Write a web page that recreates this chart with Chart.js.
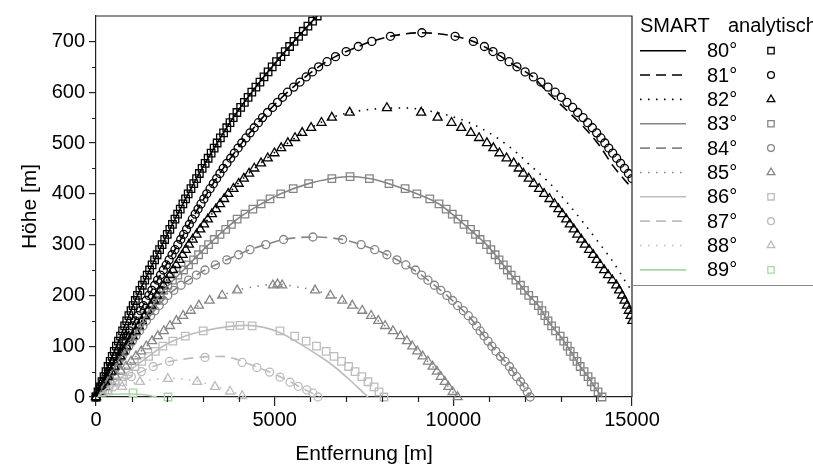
<!DOCTYPE html>
<html lang="de">
<head>
  <meta charset="UTF-8" />
  <title>Flugbahnen SMART / analytisch</title>

  <!-- Load Chart.js -->
  <script src="https://cdn.jsdelivr.net/npm/chart.js"></script>

  <style>
    html, body {
      margin: 0;
      padding: 0;
      background: #fff;
    }
    canvas { display: block; }
  </style>
</head>
<body>
  <canvas id="trajChart" width="813" height="471"></canvas>

  <script>
    const FONT = "'Liberation Sans', Arial, sans-serif";

    // axis ticks
    const xTicks = [0, 5000, 10000, 15000];
    const yTicks = [0, 100, 200, 300, 400, 500, 600, 700];

    // launch angles (legend)
    const angles = ['80°', '81°', '82°', '83°', '84°', '85°', '86°', '87°', '88°', '89°'];

    // SMART simulation, [Entfernung, Höhe]
    const smart80 = [[0,0],[280,50],[570,100],[860,150],[1160,200],[1500,250],[1850,300],[2210,350],[2580,400],[2970,450],[3390,500],[3840,550],[4360,600],[4930,650],[5540,700],[6190,750],[6900,800]];
    const smart81 = [[0,0],[350,50],[700,100],[1480,200],[2290,300],[3100,400],[3560,450],[4080,500],[4660,550],[5360,600],[6230,650],[6700,670],[7340,690],[7720,700],[8240,710],[9120,717],[10050,710],[10560,700],[11110,680],[11780,650],[12230,630],[12620,601],[13180,564],[13630,533],[14100,494],[14470,455],[14860,422],[15000,410]];
    const smart82 = [[0,0],[425,50],[850,100],[1280,150],[1710,200],[2155,250],[2600,300],[3130,350],[3700,400],[4430,450],[5370,500],[6020,530],[6600,550],[7100,560],[7800,567],[8600,569],[9400,562],[10190,547],[10750,530],[11310,506],[11870,475],[12090,460],[12680,422],[13180,383],[13630,344],[14080,303],[14470,266],[14830,226],[15000,208]];
    const smart83 = [[0,0],[430,50],[860,100],[1300,150],[1780,200],[2450,250],[3150,300],[3950,350],[4620,380],[5170,400],[5950,420],[6600,430],[7110,434],[7650,430],[8200,420],[8980,400],[9600,380],[9970,360],[10300,340],[10620,320],[10930,300],[11170,280],[11400,260],[11620,240],[11880,220],[12110,200],[12380,180],[12560,160],[12750,140],[12990,120],[13190,100],[13370,80],[13550,60],[13770,40],[13950,20],[14160,0]];
    const smart84 = [[0,0],[460,50],[920,100],[1410,150],[2010,200],[2590,230],[3050,250],[3660,270],[4310,290],[4750,300],[5250,310],[6070,315],[6900,310],[7420,300],[8140,280],[8670,260],[9110,240],[9470,220],[9820,200],[10120,180],[10420,160],[10650,140],[10860,120],[11080,100],[11320,80],[11570,60],[11770,40],[11980,20],[12150,0]];
    const smart85 = [[0,0],[700,50],[1410,100],[2250,150],[2880,180],[3530,200],[3950,210],[4500,218],[5080,222],[5600,217],[6130,210],[6560,200],[7170,180],[7700,160],[8090,140],[8520,120],[8850,100],[9140,80],[9420,60],[9650,40],[9860,20],[10120,0]];
    const smart86 = [[0,0],[360,20],[730,40],[1090,60],[1470,80],[1870,100],[2500,120],[3000,130],[3750,139],[4200,141],[4700,137],[5200,125],[5700,105],[6200,83],[6630,62],[7110,33],[7400,14],[7610,0]];
    const smart87 = [[0,0],[480,20],[990,40],[1600,60],[2060,70],[2600,76],[3050,79],[3500,80],[3850,76],[4090,70],[4500,59],[4860,49],[5150,40],[5430,30],[5700,20],[5950,11],[6250,0]];
    const smart88 = [[0,0],[330,12],[730,21],[1230,30],[1700,35],[2100,37],[2600,34],[3000,28],[3400,20],[3800,11],[4150,0]];
    const smart89 = [[0,0],[300,4],[700,6],[1000,6],[1300,5],[1700,0]];

    // analytical solution, [Entfernung, Höhe]
    const ana80 = [[0,0],[56,10],[112,20],[168,30],[224,40],[280,50],[338,60],[396,70],[454,80],[512,90],[570,100],[628,110],[686,120],[744,130],[802,140],[860,150],[920,160],[980,170],[1040,180],[1100,190],[1160,200],[1228,210],[1296,220],[1364,230],[1432,240],[1500,250],[1570,260],[1640,270],[1710,280],[1780,290],[1850,300],[1922,310],[1994,320],[2066,330],[2138,340],[2210,350],[2284,360],[2358,370],[2432,380],[2506,390],[2580,400],[2658,410],[2736,420],[2814,430],[2892,440],[2970,450],[3054,460],[3138,470],[3222,480],[3306,490],[3390,500],[3480,510],[3570,520],[3660,530],[3750,540],[3840,550],[3944,560],[4048,570],[4152,580],[4256,590],[4360,600],[4474,610],[4588,620],[4702,630],[4816,640],[4930,650],[5052,660],[5174,670],[5296,680],[5418,690],[5540,700],[5670,710],[5800,720],[5930,730],[6060,740],[6190,750],[6330,760]];
    const ana81 = [[0,0],[70,10],[140,20],[210,30],[280,40],[350,50],[420,60],[490,70],[560,80],[630,90],[700,100],[778,110],[856,120],[934,130],[1012,140],[1090,150],[1168,160],[1246,170],[1324,180],[1402,190],[1480,200],[1561,210],[1642,220],[1723,230],[1804,240],[1885,250],[1966,260],[2047,270],[2128,280],[2209,290],[2290,300],[2371,310],[2452,320],[2533,330],[2614,340],[2695,350],[2776,360],[2857,370],[2938,380],[3019,390],[3100,400],[3192,410],[3284,420],[3376,430],[3468,440],[3560,450],[3664,460],[3768,470],[3872,480],[3976,490],[4080,500],[4196,510],[4312,520],[4428,530],[4544,540],[4660,550],[4800,560],[4940,570],[5080,580],[5220,590],[5360,600],[5534,610],[5708,620],[5882,630],[6056,640],[6230,650],[6466,660],[6702,670],[7000,680],[7340,690],[7720,700],[8240,710],[9120,717],[10050,710],[10560,700],[10870,690],[11110,680],[11330,670],[11560,660],[11780,650],[12010,640],[12240,630],[12450,620],[12650,610],[12850,600],[13020,590],[13180,580],[13340,570],[13480,560],[13630,550],[13760,540],[13890,530],[14010,520],[14130,510],[14240,500],[14350,490],[14460,480],[14570,470],[14680,460],[14790,450],[14900,440],[15000,430]];
    const ana82 = [[0,0],[85,10],[170,20],[255,30],[340,40],[425,50],[510,60],[595,70],[680,80],[765,90],[850,100],[936,110],[1022,120],[1108,130],[1194,140],[1280,150],[1366,160],[1452,170],[1538,180],[1624,190],[1710,200],[1799,210],[1888,220],[1977,230],[2066,240],[2155,250],[2244,260],[2333,270],[2422,280],[2511,290],[2600,300],[2706,310],[2812,320],[2918,330],[3024,340],[3130,350],[3244,360],[3358,370],[3472,380],[3586,390],[3700,400],[3846,410],[3992,420],[4138,430],[4284,440],[4430,450],[4618,460],[4806,470],[4994,480],[5182,490],[5370,500],[5570,510],[5770,520],[6020,530],[6310,540],[6600,550],[7100,560],[8140,569],[9100,560],[9560,550],[9950,540],[10220,530],[10490,520],[10720,510],[10940,500],[11120,490],[11290,480],[11490,470],[11690,460],[11830,450],[11960,440],[12110,430],[12250,420],[12400,410],[12540,400],[12690,390],[12830,380],[12940,370],[13050,360],[13160,350],[13260,340],[13370,330],[13470,320],[13580,310],[13680,300],[13800,290],[13910,280],[14010,270],[14110,260],[14220,250],[14330,240],[14450,230],[14560,220],[14640,210],[14720,200],[14790,190],[14860,180],[14910,170],[14960,160],[15010,150]];
    const ana83 = [[0,0],[86,10],[172,20],[258,30],[344,40],[430,50],[516,60],[602,70],[688,80],[774,90],[860,100],[948,110],[1036,120],[1124,130],[1212,140],[1300,150],[1396,160],[1492,170],[1588,180],[1684,190],[1780,200],[1890,210],[2010,220],[2140,230],[2290,240],[2450,250],[2590,260],[2730,270],[2870,280],[3010,290],[3150,300],[3310,310],[3470,320],[3630,330],[3790,340],[3950,350],[4170,360],[4390,370],[4620,380],[4870,390],[5170,400],[5520,410],[5950,420],[6600,430],[7110,434],[7650,430],[8200,420],[8650,410],[8980,400],[9340,390],[9600,380],[9800,370],[9970,360],[10130,350],[10300,340],[10480,330],[10620,320],[10750,310],[10930,300],[11050,290],[11170,280],[11280,270],[11400,260],[11510,250],[11620,240],[11750,230],[11880,220],[11990,210],[12110,200],[12250,190],[12380,180],[12480,170],[12560,160],[12650,150],[12750,140],[12860,130],[12990,120],[13090,110],[13190,100],[13270,90],[13370,80],[13460,70],[13550,60],[13660,50],[13770,40],[13860,30],[13950,20],[14050,10],[14160,0]];
    const ana84 = [[0,0],[92,10],[184,20],[276,30],[368,40],[460,50],[552,60],[644,70],[736,80],[828,90],[920,100],[1018,110],[1116,120],[1214,130],[1312,140],[1410,150],[1530,160],[1650,170],[1770,180],[1890,190],[2010,200],[2180,210],[2380,220],[2590,230],[2810,240],[3050,250],[3340,260],[3660,270],[3990,280],[4310,290],[4750,300],[5250,310],[6070,315],[6900,310],[7420,300],[7800,290],[8140,280],[8420,270],[8670,260],[8940,250],[9110,240],[9290,230],[9470,220],[9650,210],[9820,200],[9980,190],[10120,180],[10280,170],[10420,160],[10550,150],[10650,140],[10750,130],[10860,120],[10970,110],[11080,100],[11190,90],[11320,80],[11450,70],[11570,60],[11660,50],[11770,40],[11880,30],[11980,20],[12070,10],[12150,0]];
    const ana85 = [[0,0],[140,10],[280,20],[420,30],[560,40],[700,50],[840,60],[980,70],[1120,80],[1265,90],[1410,100],[1570,110],[1730,120],[1900,130],[2070,140],[2250,150],[2440,160],[2650,170],[2880,180],[3180,190],[3530,200],[3950,210],[4950,220],[5080,222],[5210,220],[6130,210],[6560,200],[6890,190],[7170,180],[7450,170],[7700,160],[7900,150],[8090,140],[8310,130],[8520,120],[8700,110],[8850,100],[8990,90],[9140,80],[9290,70],[9420,60],[9540,50],[9650,40],[9760,30],[9860,20],[9980,10],[10120,0]];
    const ana86 = [[0,0],[180,10],[360,20],[540,30],[730,40],[910,50],[1090,60],[1280,70],[1470,80],[1660,90],[1870,100],[2150,110],[2500,120],[3000,130],[3750,140],[4030,141],[4370,140],[5150,130],[5560,120],[5880,110],[6170,100],[6440,90],[6660,80],[6870,70],[7070,60],[7250,50],[7440,40],[7610,30],[7780,20],[7920,10],[8060,0]];
    const ana87 = [[0,0],[240,10],[480,20],[740,30],[990,40],[1270,50],[1600,60],[2060,70],[3050,78],[4090,68],[4500,58],[4860,49],[5150,39],[5430,29],[5660,21],[5900,14],[6070,8],[6210,0]];
    const ana88 = [[0,0],[330,12],[730,20],[1230,30],[2010,36],[2830,30],[3330,20],[3750,11],[4090,2]];
    const ana89 = [[0,0],[1035,8],[2015,0]];

    const smartSeries = [smart80, smart81, smart82, smart83, smart84, smart85, smart86, smart87, smart88, smart89];
    const anaSeries = [ana80, ana81, ana82, ana83, ana84, ana85, ana86, ana87, ana88, ana89];

    // styles per angle
    const colors = ['#000000', '#000000', '#000000', '#858585', '#858585', '#858585', '#bdbdbd', '#bdbdbd', '#bdbdbd', '#a8d6a8'];
    const dashes = [[], [10, 6], [1.5, 6.5], [], [10, 6], [1.5, 6.5], [], [10, 6], [1.5, 6.5], []];
    const markers = ['rect', 'circle', 'triangle', 'rect', 'circle', 'triangle', 'rect', 'circle', 'triangle', 'rect'];
    const markerSize = { rect: 5.3, circle: 4, triangle: 5.2 };

    function drawMarker(ctx, style, x, y, r) {
      ctx.beginPath();
      if (style === 'rect') {
        const s = r * Math.SQRT1_2;
        ctx.rect(x - s, y - s, 2 * s, 2 * s);
      } else if (style === 'circle') {
        ctx.arc(x, y, r, 0, Math.PI * 2);
      } else {
        let a = 0;
        ctx.moveTo(x + Math.sin(a) * r, y - Math.cos(a) * r);
        a += Math.PI * 2 / 3;
        ctx.lineTo(x + Math.sin(a) * r, y - Math.cos(a) * r);
        a += Math.PI * 2 / 3;
        ctx.lineTo(x + Math.sin(a) * r, y - Math.cos(a) * r);
        ctx.closePath();
      }
      ctx.stroke();
    }

    // frame, minor ticks and the two-column legend
    const decorations = {
      id: 'decorations',
      afterDraw(chart) {
        const ctx = chart.ctx;
        const a = chart.chartArea;
        const sx = chart.scales.x, sy = chart.scales.y;
        ctx.save();

        ctx.strokeStyle = '#222';
        ctx.lineWidth = 1.2;
        ctx.beginPath();
        ctx.moveTo(a.left, a.top);
        ctx.lineTo(a.right, a.top);
        ctx.lineTo(a.right, a.bottom);
        ctx.stroke();

        // minor ticks
        ctx.beginPath();
        for (let v = 1000; v < 15000; v += 1000) {
          if (v % 5000 === 0) continue;
          const px = Math.round(sx.getPixelForValue(v)) + 0.5;
          ctx.moveTo(px, a.bottom);
          ctx.lineTo(px, a.bottom + 5);
        }
        for (let v = 50; v < 750; v += 100) {
          const py = Math.round(sy.getPixelForValue(v)) + 0.5;
          ctx.moveTo(a.left, py);
          ctx.lineTo(a.left - 4, py);
        }
        ctx.stroke();

        // legend
        const lx = a.right;
        ctx.fillStyle = '#000';
        ctx.font = '20px ' + FONT;
        ctx.textBaseline = 'middle';
        ctx.fillText('SMART', lx + 8, 26);
        ctx.fillText('analytisch', lx + 96, 26);
        angles.forEach((label, i) => {
          const y = 50.7 + i * 24.35;
          ctx.strokeStyle = colors[i];
          ctx.lineWidth = 1.6;
          ctx.setLineDash(dashes[i]);
          ctx.beginPath();
          ctx.moveTo(lx + 8, y);
          ctx.lineTo(lx + 54, y);
          ctx.stroke();
          ctx.setLineDash([]);
          ctx.fillStyle = '#000';
          ctx.fillText(label, lx + 75, y + 1);
          ctx.lineWidth = 1.3;
          drawMarker(ctx, markers[i], lx + 139, y, markerSize[markers[i]] * 0.85);
        });

        ctx.strokeStyle = '#8a8a8a';
        ctx.lineWidth = 1;
        ctx.beginPath();
        ctx.moveTo(lx, 285.5);
        ctx.lineTo(chart.width, 285.5);
        ctx.stroke();
        ctx.restore();
      }
    };

    const datasets = [];
    smartSeries.forEach((d, i) => {
      datasets.push({
        label: 'SMART ' + angles[i],
        data: d,
        showLine: true,
        borderColor: colors[i],
        borderWidth: 1.6,
        borderDash: dashes[i],
        cubicInterpolationMode: 'monotone',
        pointRadius: 0,
        fill: false,
        clip: 0
      });
    });
    anaSeries.forEach((d, i) => {
      datasets.push({
        label: 'analytisch ' + angles[i],
        data: d,
        showLine: false,
        pointStyle: markers[i],
        pointRadius: markerSize[markers[i]],
        pointBorderColor: colors[i],
        pointBorderWidth: 1.3,
        pointBackgroundColor: 'rgba(0,0,0,0)',
        clip: { left: 6, right: 0, top: 0, bottom: 6 }
      });
    });

    new Chart(document.getElementById('trajChart'), {
      type: 'scatter',
      data: { datasets },
      options: {
        responsive: false,
        animation: false,
        devicePixelRatio: 1,
        events: [],
        layout: { padding: { left: 0, right: 181, top: 12, bottom: 0 } },
        plugins: {
          legend: { display: false },
          tooltip: { enabled: false }
        },
        scales: {
          x: {
            type: 'linear',
            min: 0,
            max: 15000,
            afterBuildTicks: s => { s.ticks = xTicks.map(v => ({ value: v })); },
            afterFit: s => { s.height = 74; },
            ticks: { color: '#000', font: { family: FONT, size: 20 }, padding: 2, maxRotation: 0, callback: v => String(v) },
            grid: { drawOnChartArea: false, drawTicks: true, tickLength: 9, color: '#222', lineWidth: 1.2 },
            border: { display: true, color: '#222', width: 1.2 },
            title: { display: true, text: 'Entfernung [m]', color: '#000', font: { family: FONT, size: 21 }, padding: { top: 0, bottom: 4 } }
          },
          y: {
            type: 'linear',
            min: 0,
            max: 750,
            afterBuildTicks: s => { s.ticks = yTicks.map(v => ({ value: v })); },
            afterFit: s => { s.width = 96; },
            ticks: { color: '#000', font: { family: FONT, size: 20 }, padding: 4, callback: v => String(v) },
            grid: { drawOnChartArea: false, drawTicks: true, tickLength: 7, color: '#222', lineWidth: 1.2 },
            border: { display: true, color: '#222', width: 1.2 },
            title: { display: true, text: 'Höhe [m]', color: '#000', font: { family: FONT, size: 21 }, padding: { top: 18, bottom: 0 } }
          }
        }
      },
      plugins: [decorations]
    });
  </script>
</body>
</html>
